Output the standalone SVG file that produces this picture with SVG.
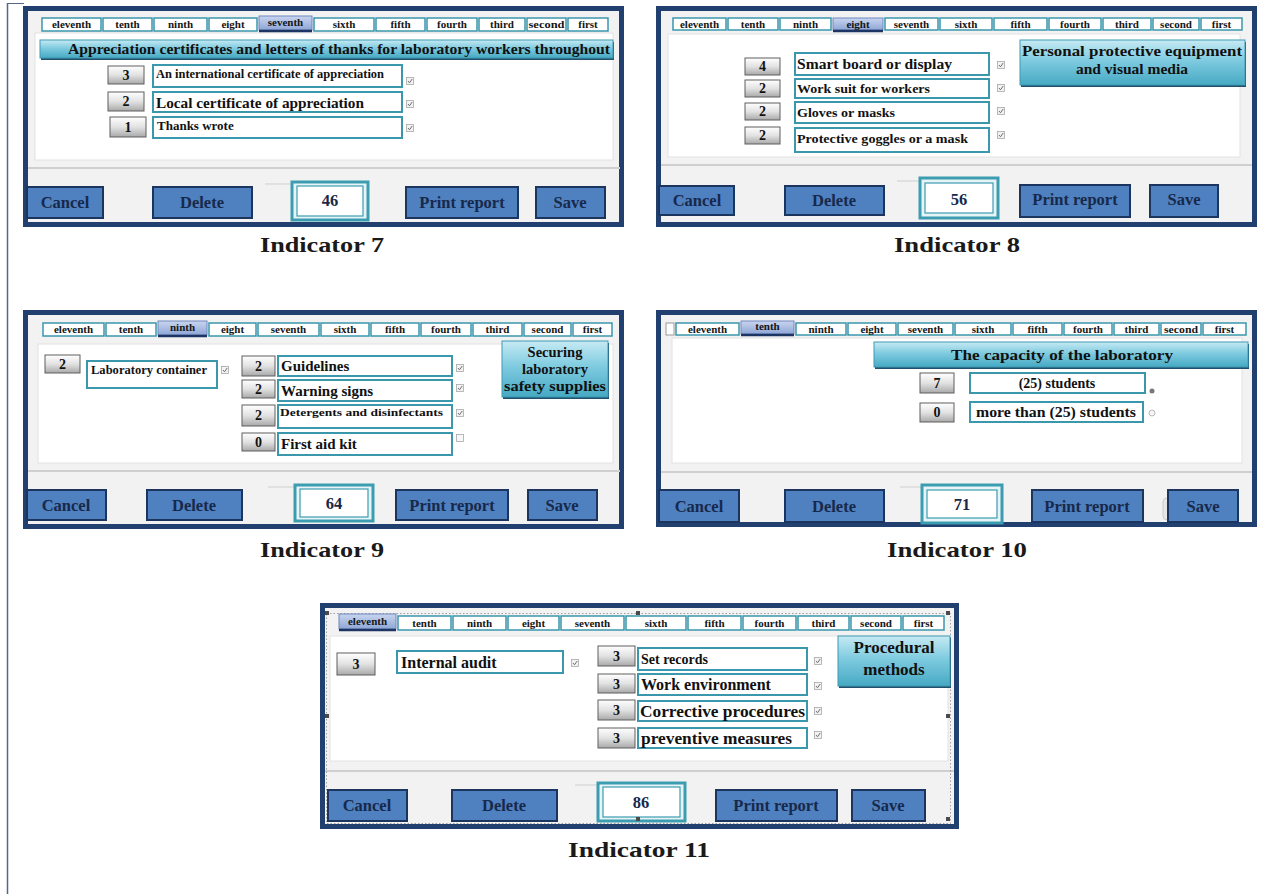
<svg xmlns="http://www.w3.org/2000/svg" xmlns:xlink="http://www.w3.org/1999/xlink" width="1272" height="894" viewBox="0 0 1272 894">
<defs>
<linearGradient id="gGray" x1="0" y1="0" x2="0" y2="1"><stop offset="0" stop-color="#ffffff"/><stop offset="0.5" stop-color="#e2e2e2"/><stop offset="1" stop-color="#a9a9a9"/></linearGradient>
<linearGradient id="gTeal" x1="0" y1="0" x2="0" y2="1"><stop offset="0" stop-color="#c6eaf3"/><stop offset="0.45" stop-color="#7fcbe0"/><stop offset="1" stop-color="#46a9c3"/></linearGradient>
<linearGradient id="gSel" x1="0" y1="0" x2="0" y2="1"><stop offset="0" stop-color="#c9d5ef"/><stop offset="1" stop-color="#8ea6d6"/></linearGradient>
<g id="chk"><rect x="-3.5" y="-3.5" width="7" height="7" fill="#f2f2f2" stroke="#a8a8a8" stroke-width="0.8"/><path d="M-2,0 L-0.5,1.8 L2.2,-2" fill="none" stroke="#707070" stroke-width="1"/></g>
<g id="unchk"><rect x="-3.5" y="-3.5" width="7" height="7" fill="#f7f7f7" stroke="#a8a8a8" stroke-width="0.8"/></g>
</defs>
<style>
.frame{fill:#f2f2f2;stroke:#21406f;stroke-width:5}
.content{fill:#ffffff;stroke:#e2e2e2;stroke-width:1}
.sep{stroke:#cfcfcf;stroke-width:2}
.tab{fill:#ffffff;stroke:#3a97ad;stroke-width:1.5}
.tabsel{fill:url(#gSel);stroke:#6f88bd;stroke-width:1}
.tabline{stroke:#1c3563;stroke-width:2.5}
.tabt{font-family:"Liberation Serif",serif;font-weight:bold;font-size:11px;fill:#151515;text-anchor:middle}
.btn{fill:#4f80bf;stroke:#1b355f;stroke-width:2}
.btnt{font-family:"Liberation Serif",serif;font-weight:bold;font-size:16.5px;fill:#17294a;text-anchor:middle}
.num{fill:url(#gGray);stroke:#5e5e5e;stroke-width:1}
.numt{font-family:"Liberation Serif",serif;font-weight:bold;font-size:14px;fill:#111;text-anchor:middle}
.box{fill:#ffffff;stroke:#3b97ab;stroke-width:2}
.bt{font-family:"Liberation Serif",serif;font-weight:bold;fill:#111}
.ttl{fill:url(#gTeal);stroke:#3f9ab3;stroke-width:1}
.ttlsh{fill:#21506c}
.tt{font-family:"Liberation Serif",serif;font-weight:bold;fill:#111;text-anchor:middle}
.score{fill:#e7f4f7;stroke:#3c9cb0;stroke-width:3}
.scorein{fill:#ffffff;stroke:#3c9cb0;stroke-width:1.2}
.cap{font-family:"Liberation Serif",serif;font-weight:bold;font-size:21px;fill:#1a1a1a;text-anchor:middle}
.handle{fill:#4a4a4a}
</style>
<rect x="0" y="0" width="1272" height="894" fill="#ffffff"/>
<line x1="7.5" y1="3" x2="7.5" y2="894" stroke="#55668a" stroke-width="1.5"/>
<line x1="7" y1="3.5" x2="24" y2="3.5" stroke="#55668a" stroke-width="1"/>

<!-- ============ Indicator 7 ============ -->
<g id="panel-indicator7">
<rect class="frame" x="25.5" y="8.5" width="596" height="216"/>
<rect class="content" x="35" y="33" width="578" height="127"/>
<line class="sep" x1="28" y1="168" x2="620" y2="168"/>
<g id="tabs7">
<rect class="tab" x="42" y="18" width="59" height="13"/><text class="tabt" x="71.5" y="28">eleventh</text>
<rect class="tab" x="103" y="18" width="49" height="13"/><text class="tabt" x="127.5" y="28">tenth</text>
<rect class="tab" x="154" y="18" width="53" height="13"/><text class="tabt" x="180.5" y="28">ninth</text>
<rect class="tab" x="209" y="18" width="48" height="13"/><text class="tabt" x="233" y="28">eight</text>
<rect class="tabsel" x="259" y="16" width="53" height="14"/><line class="tabline" x1="259" y1="31" x2="312" y2="31"/><text class="tabt" x="285.5" y="26" font-size="10">seventh</text>
<rect class="tab" x="314" y="18" width="60" height="13"/><text class="tabt" x="344" y="28">sixth</text>
<rect class="tab" x="376" y="18" width="49" height="13"/><text class="tabt" x="400.5" y="28">fifth</text>
<rect class="tab" x="427" y="18" width="50" height="13"/><text class="tabt" x="452" y="28">fourth</text>
<rect class="tab" x="479" y="18" width="46" height="13"/><text class="tabt" x="502" y="28">third</text>
<rect class="tab" x="527" y="18" width="39" height="13"/><text class="tabt" x="546.5" y="28" textLength="36" lengthAdjust="spacingAndGlyphs">second</text>
<rect class="tab" x="568" y="18" width="40" height="13"/><text class="tabt" x="588" y="28">first</text>
</g>
<rect class="ttlsh" x="41" y="42" width="573" height="18"/>
<rect class="ttl" x="40" y="40" width="573" height="18"/>
<text class="tt" x="339" y="54" font-size="15.5" textLength="542" lengthAdjust="spacingAndGlyphs">Appreciation certificates and letters of thanks for laboratory workers throughout</text>
<rect class="num" x="108" y="66" width="36" height="18"/><text class="numt" x="126" y="80">3</text>
<rect class="num" x="108" y="92" width="36" height="19"/><text class="numt" x="126" y="106">2</text>
<rect class="num" x="110" y="117" width="36" height="20"/><text class="numt" x="128" y="132">1</text>
<rect class="box" x="153" y="65" width="249" height="22"/><text class="bt" x="156" y="78" font-size="11.5" textLength="228" lengthAdjust="spacingAndGlyphs">An international certificate of appreciation</text>
<rect class="box" x="153" y="92" width="249" height="20"/><text class="bt" x="156" y="108" font-size="15" textLength="208" lengthAdjust="spacingAndGlyphs">Local certificate of appreciation</text>
<rect class="box" x="153" y="117" width="249" height="21"/><text class="bt" x="157" y="130" font-size="13">Thanks wrote</text>
<use xlink:href="#chk" x="410" y="81"/>
<use xlink:href="#chk" x="410" y="104"/>
<use xlink:href="#chk" x="410" y="128"/>
<line x1="265" y1="184" x2="292" y2="184" stroke="#cfcfcf" stroke-width="1"/>
<rect class="btn" x="27" y="187" width="76" height="31"/><text class="btnt" x="65" y="208">Cancel</text>
<rect class="btn" x="153" y="187" width="99" height="31"/><text class="btnt" x="202" y="208">Delete</text>
<rect class="score" x="292" y="182" width="76" height="38"/><rect class="scorein" x="297" y="186" width="66" height="30"/><text class="btnt" x="330" y="206" fill="#111">46</text>
<rect class="btn" x="406" y="187" width="112" height="31"/><text class="btnt" x="462" y="208">Print  report</text>
<rect class="btn" x="536" y="187" width="69" height="31"/><text class="btnt" x="570" y="208">Save</text>
</g>
<text id="cap7" class="cap" x="322" y="252" textLength="124" lengthAdjust="spacingAndGlyphs">Indicator 7</text>

<!-- ============ Indicator 8 ============ -->
<g id="panel-indicator8">
<rect class="frame" x="658.5" y="8.5" width="596" height="216"/>
<rect class="content" x="668" y="34" width="572" height="123"/>
<line class="sep" x1="661" y1="165" x2="1252" y2="165"/>
<g id="tabs8">
<rect class="tab" x="673" y="18" width="53" height="12"/><text class="tabt" x="699.5" y="27.5">eleventh</text>
<rect class="tab" x="728" y="18" width="50" height="12"/><text class="tabt" x="753" y="27.5">tenth</text>
<rect class="tab" x="780" y="18" width="51" height="12"/><text class="tabt" x="805.5" y="27.5">ninth</text>
<rect class="tabsel" x="833" y="18" width="50" height="12"/><line class="tabline" x1="833" y1="31" x2="883" y2="31"/><text class="tabt" x="858" y="27.5" fill="#2a4a8a">eight</text>
<rect class="tab" x="885" y="18" width="53" height="12"/><text class="tabt" x="911.5" y="27.5">seventh</text>
<rect class="tab" x="940" y="18" width="52" height="12"/><text class="tabt" x="966" y="27.5">sixth</text>
<rect class="tab" x="994" y="18" width="53" height="12"/><text class="tabt" x="1020.5" y="27.5">fifth</text>
<rect class="tab" x="1049" y="18" width="52" height="12"/><text class="tabt" x="1075" y="27.5">fourth</text>
<rect class="tab" x="1103" y="18" width="48" height="12"/><text class="tabt" x="1127" y="27.5">third</text>
<rect class="tab" x="1153" y="18" width="46" height="12"/><text class="tabt" x="1176" y="27.5">second</text>
<rect class="tab" x="1201" y="18" width="41" height="12"/><text class="tabt" x="1221.5" y="27.5">first</text>
</g>
<rect class="ttlsh" x="1021" y="42" width="225" height="45"/>
<rect class="ttl" x="1020" y="40" width="225" height="45"/>
<text class="tt" x="1132" y="56" font-size="15.5" textLength="220" lengthAdjust="spacingAndGlyphs">Personal protective equipment</text>
<text class="tt" x="1132" y="74" font-size="15.5">and visual media</text>
<rect class="num" x="745" y="58" width="35" height="17"/><text class="numt" x="762.5" y="71">4</text>
<rect class="num" x="745" y="80" width="35" height="17"/><text class="numt" x="762.5" y="93">2</text>
<rect class="num" x="745" y="103" width="35" height="17"/><text class="numt" x="762.5" y="116">2</text>
<rect class="num" x="745" y="127" width="35" height="17"/><text class="numt" x="762.5" y="140">2</text>
<rect class="box" x="795" y="53" width="194" height="22"/><text class="bt" x="797" y="69" font-size="15" textLength="155" lengthAdjust="spacingAndGlyphs">Smart board or display</text>
<rect class="box" x="795" y="79" width="194" height="19"/><text class="bt" x="797" y="93" font-size="12.5" textLength="133" lengthAdjust="spacingAndGlyphs">Work suit for workers</text>
<rect class="box" x="795" y="102" width="194" height="21"/><text class="bt" x="797" y="117" font-size="12.5" textLength="98" lengthAdjust="spacingAndGlyphs">Gloves or masks</text>
<rect class="box" x="795" y="128" width="194" height="24"/><text class="bt" x="797" y="143" font-size="12.5" textLength="171" lengthAdjust="spacingAndGlyphs">Protective goggles or a mask</text>
<use xlink:href="#chk" x="1001" y="65"/>
<use xlink:href="#chk" x="1001" y="88"/>
<use xlink:href="#chk" x="1001" y="111"/>
<use xlink:href="#chk" x="1001" y="135"/>
<line x1="897" y1="181" x2="920" y2="181" stroke="#cfcfcf" stroke-width="1"/>
<rect class="btn" x="659" y="186" width="75" height="29"/><text class="btnt" x="697" y="206">Cancel</text>
<rect class="btn" x="785" y="186" width="99" height="29"/><text class="btnt" x="834" y="206">Delete</text>
<rect class="score" x="920" y="178" width="78" height="40"/><rect class="scorein" x="925" y="183" width="68" height="30"/><text class="btnt" x="959" y="205" fill="#111">56</text>
<rect class="btn" x="1020" y="185" width="110" height="32"/><text class="btnt" x="1075" y="205">Print  report</text>
<rect class="btn" x="1150" y="185" width="68" height="32"/><text class="btnt" x="1184" y="205">Save</text>
</g>
<text id="cap8" class="cap" x="957" y="252" textLength="126" lengthAdjust="spacingAndGlyphs">Indicator 8</text>

<!-- ============ Indicator 9 ============ -->
<g id="panel-indicator9">
<rect class="frame" x="25.5" y="312.5" width="596" height="214"/>
<rect class="content" x="38" y="344" width="575" height="119"/>
<line class="sep" x1="28" y1="471" x2="620" y2="471"/>
<g id="tabs9">
<rect class="tab" x="43" y="323" width="61" height="13"/><text class="tabt" x="73.5" y="333">eleventh</text>
<rect class="tab" x="106" y="323" width="50" height="13"/><text class="tabt" x="131" y="333">tenth</text>
<rect class="tabsel" x="158" y="321" width="49" height="14"/><line class="tabline" x1="158" y1="336" x2="207" y2="336"/><text class="tabt" x="182.5" y="331" fill="#2a4a8a">ninth</text>
<rect class="tab" x="209" y="323" width="47" height="13"/><text class="tabt" x="232.5" y="333">eight</text>
<rect class="tab" x="258" y="323" width="61" height="13"/><text class="tabt" x="288.5" y="333">seventh</text>
<rect class="tab" x="321" y="323" width="48" height="13"/><text class="tabt" x="345" y="333">sixth</text>
<rect class="tab" x="371" y="323" width="48" height="13"/><text class="tabt" x="395" y="333">fifth</text>
<rect class="tab" x="421" y="323" width="50" height="13"/><text class="tabt" x="446" y="333">fourth</text>
<rect class="tab" x="473" y="323" width="49" height="13"/><text class="tabt" x="497.5" y="333">third</text>
<rect class="tab" x="524" y="323" width="47" height="13"/><text class="tabt" x="547.5" y="333">second</text>
<rect class="tab" x="573" y="323" width="39" height="13"/><text class="tabt" x="592.5" y="333">first</text>
</g>
<rect class="ttlsh" x="503" y="343" width="106" height="56"/>
<rect class="ttl" x="502" y="341" width="106" height="56"/>
<text class="tt" x="555" y="357" font-size="14.5">Securing</text>
<text class="tt" x="555" y="374" font-size="14.5">laboratory</text>
<text class="tt" x="555" y="391" font-size="14.5" textLength="102" lengthAdjust="spacingAndGlyphs">safety supplies</text>
<rect class="num" x="45" y="355" width="35" height="18"/><text class="numt" x="62.5" y="369">2</text>
<rect class="box" x="87" y="361" width="130" height="27"/><text class="bt" x="91" y="374" font-size="12" textLength="116" lengthAdjust="spacingAndGlyphs">Laboratory container</text>
<use xlink:href="#chk" x="225" y="370"/>
<rect class="num" x="242" y="356" width="33" height="20"/><text class="numt" x="258.5" y="371">2</text>
<rect class="num" x="242" y="380" width="33" height="18"/><text class="numt" x="258.5" y="394">2</text>
<rect class="num" x="242" y="405" width="33" height="21"/><text class="numt" x="258.5" y="420">2</text>
<rect class="num" x="242" y="433" width="33" height="18"/><text class="numt" x="258.5" y="447">0</text>
<rect class="box" x="278" y="356" width="174" height="20"/><text class="bt" x="281" y="371" font-size="15">Guidelines</text>
<rect class="box" x="278" y="380" width="174" height="21"/><text class="bt" x="281" y="396" font-size="15">Warning signs</text>
<rect class="box" x="278" y="405" width="174" height="23"/><text class="bt" x="280" y="416" font-size="11" textLength="163" lengthAdjust="spacingAndGlyphs">Detergents and disinfectants</text>
<rect class="box" x="278" y="433" width="174" height="22"/><text class="bt" x="281" y="449" font-size="15">First aid kit</text>
<use xlink:href="#chk" x="460" y="368"/>
<use xlink:href="#chk" x="460" y="388"/>
<use xlink:href="#chk" x="460" y="413"/>
<use xlink:href="#unchk" x="460" y="438"/>
<line x1="268" y1="487" x2="295" y2="487" stroke="#cfcfcf" stroke-width="1"/>
<rect class="btn" x="27" y="490" width="79" height="30"/><text class="btnt" x="66" y="511">Cancel</text>
<rect class="btn" x="147" y="490" width="95" height="30"/><text class="btnt" x="194" y="511">Delete</text>
<rect class="score" x="295" y="485" width="78" height="36"/><rect class="scorein" x="300" y="489" width="68" height="28"/><text class="btnt" x="334" y="509" fill="#111">64</text>
<rect class="btn" x="396" y="490" width="112" height="30"/><text class="btnt" x="452" y="511">Print  report</text>
<rect class="btn" x="528" y="490" width="69" height="30"/><text class="btnt" x="562" y="511">Save</text>
</g>
<text id="cap9" class="cap" x="322" y="557" textLength="124" lengthAdjust="spacingAndGlyphs">Indicator 9</text>

<!-- ============ Indicator 10 ============ -->
<g id="panel-indicator10">
<rect class="frame" x="658.5" y="312.5" width="596" height="212"/>
<rect class="content" x="672" y="338" width="570" height="125"/>
<line class="sep" x1="661" y1="472" x2="1252" y2="472"/>
<rect x="666" y="323" width="8" height="12" fill="#ffffff" stroke="#9a9a9a" stroke-width="1"/>
<g id="tabs10">
<rect class="tab" x="676" y="323" width="63" height="12"/><text class="tabt" x="707.5" y="332.5">eleventh</text>
<rect class="tabsel" x="741" y="321" width="53" height="13"/><line class="tabline" x1="741" y1="335" x2="794" y2="335"/><text class="tabt" x="767.5" y="330" fill="#2a4a8a">tenth</text>
<rect class="tab" x="796" y="323" width="50" height="12"/><text class="tabt" x="821" y="332.5">ninth</text>
<rect class="tab" x="848" y="323" width="48" height="12"/><text class="tabt" x="872" y="332.5">eight</text>
<rect class="tab" x="898" y="323" width="55" height="12"/><text class="tabt" x="925.5" y="332.5">seventh</text>
<rect class="tab" x="955" y="323" width="56" height="12"/><text class="tabt" x="983" y="332.5">sixth</text>
<rect class="tab" x="1013" y="323" width="49" height="12"/><text class="tabt" x="1037.5" y="332.5">fifth</text>
<rect class="tab" x="1064" y="323" width="48" height="12"/><text class="tabt" x="1088" y="332.5">fourth</text>
<rect class="tab" x="1114" y="323" width="45" height="12"/><text class="tabt" x="1136.5" y="332.5">third</text>
<rect class="tab" x="1161" y="323" width="40" height="12"/><text class="tabt" x="1181" y="332.5" textLength="34" lengthAdjust="spacingAndGlyphs">second</text>
<rect class="tab" x="1203" y="323" width="43" height="12"/><text class="tabt" x="1224.5" y="332.5">first</text>
</g>
<rect class="ttlsh" x="875" y="344" width="374" height="25"/>
<rect class="ttl" x="874" y="342" width="374" height="25"/>
<text class="tt" x="1062" y="360" font-size="15.5" textLength="222" lengthAdjust="spacingAndGlyphs">The capacity of the laboratory</text>
<rect class="num" x="920" y="373" width="34" height="20"/><text class="numt" x="937" y="388">7</text>
<rect class="num" x="920" y="403" width="34" height="19"/><text class="numt" x="937" y="417">0</text>
<rect class="box" x="970" y="373" width="175" height="20"/><text class="tt" x="1057" y="388" font-size="14">(25) students</text>
<rect class="box" x="970" y="402" width="173" height="20"/><text class="tt" x="1056" y="417" font-size="14" textLength="160" lengthAdjust="spacingAndGlyphs">more than (25) students</text>
<circle cx="1152" cy="391" r="2.5" fill="#777"/>
<circle cx="1152" cy="413" r="3" fill="#f5f5f5" stroke="#bbbbbb" stroke-width="1"/>
<line x1="900" y1="487" x2="922" y2="487" stroke="#cfcfcf" stroke-width="1"/>
<rect class="btn" x="659" y="490" width="80" height="32"/><text class="btnt" x="699" y="512">Cancel</text>
<rect class="btn" x="785" y="490" width="99" height="32"/><text class="btnt" x="834" y="512">Delete</text>
<rect class="score" x="922" y="485" width="80" height="38"/><rect class="scorein" x="927" y="490" width="70" height="28"/><text class="btnt" x="962" y="510" fill="#111">71</text>
<rect class="btn" x="1032" y="490" width="111" height="32"/><text class="btnt" x="1087" y="512">Print  report</text>
<rect x="1163" y="498" width="14" height="22" rx="4" fill="#e6e6e6" stroke="#cccccc" stroke-width="1"/>
<rect class="btn" x="1168" y="490" width="70" height="32"/><text class="btnt" x="1203" y="512">Save</text>
</g>
<text id="cap10" class="cap" x="957" y="557" textLength="140" lengthAdjust="spacingAndGlyphs">Indicator 10</text>

<!-- ============ Indicator 11 ============ -->
<g id="panel-indicator11">
<rect class="frame" x="322.5" y="605.5" width="634" height="221"/>
<rect class="content" x="330" y="636" width="618" height="125"/>
<line class="sep" x1="325" y1="771" x2="954" y2="771"/>
<rect x="326.5" y="613.5" width="624" height="210" fill="none" stroke="#8a8a8a" stroke-width="0.8" stroke-dasharray="1.5 2"/>
<g id="tabs11">
<rect class="tabsel" x="339" y="614" width="57" height="15"/><line class="tabline" x1="339" y1="630" x2="396" y2="630"/><text class="tabt" x="367.5" y="625" fill="#2a4a8a">eleventh</text>
<rect class="tab" x="398" y="616" width="53" height="14"/><text class="tabt" x="424.5" y="626.5">tenth</text>
<rect class="tab" x="453" y="616" width="53" height="14"/><text class="tabt" x="479.5" y="626.5">ninth</text>
<rect class="tab" x="508" y="616" width="51" height="14"/><text class="tabt" x="533.5" y="626.5">eight</text>
<rect class="tab" x="561" y="616" width="63" height="14"/><text class="tabt" x="592.5" y="626.5">seventh</text>
<rect class="tab" x="626" y="616" width="60" height="14"/><text class="tabt" x="656" y="626.5">sixth</text>
<rect class="tab" x="688" y="616" width="53" height="14"/><text class="tabt" x="714.5" y="626.5">fifth</text>
<rect class="tab" x="743" y="616" width="53" height="14"/><text class="tabt" x="769.5" y="626.5">fourth</text>
<rect class="tab" x="798" y="616" width="51" height="14"/><text class="tabt" x="823.5" y="626.5">third</text>
<rect class="tab" x="851" y="616" width="50" height="14"/><text class="tabt" x="876" y="626.5">second</text>
<rect class="tab" x="903" y="616" width="41" height="14"/><text class="tabt" x="923.5" y="626.5">first</text>
</g>
<rect class="ttlsh" x="839" y="638" width="112" height="50"/>
<rect class="ttl" x="838" y="636" width="112" height="50"/>
<text class="tt" x="894" y="653" font-size="17">Procedural</text>
<text class="tt" x="894" y="675" font-size="17">methods</text>
<rect class="num" x="337" y="653" width="38" height="22"/><text class="numt" x="356" y="669" font-size="15">3</text>
<rect class="box" x="397" y="651" width="166" height="22"/><text class="bt" x="401" y="668" font-size="16">Internal audit</text>
<use xlink:href="#chk" x="575" y="663"/>
<rect class="num" x="598" y="646" width="37" height="20"/><text class="numt" x="616.5" y="661" font-size="15">3</text>
<rect class="num" x="598" y="674" width="37" height="19"/><text class="numt" x="616.5" y="689" font-size="15">3</text>
<rect class="num" x="598" y="700" width="37" height="20"/><text class="numt" x="616.5" y="715" font-size="15">3</text>
<rect class="num" x="598" y="728" width="37" height="20"/><text class="numt" x="616.5" y="743" font-size="15">3</text>
<rect class="box" x="638" y="648" width="169" height="22"/><text class="bt" x="641" y="664" font-size="14">Set records</text>
<rect class="box" x="638" y="674" width="169" height="21"/><text class="bt" x="641" y="690" font-size="16">Work environment</text>
<rect class="box" x="638" y="701" width="169" height="20"/><text class="bt" x="640" y="717" font-size="16" textLength="165" lengthAdjust="spacingAndGlyphs">Corrective procedures</text>
<rect class="box" x="638" y="728" width="169" height="20"/><text class="bt" x="641" y="744" font-size="16" textLength="151" lengthAdjust="spacingAndGlyphs">preventive measures</text>
<use xlink:href="#chk" x="818" y="661"/>
<use xlink:href="#chk" x="818" y="686"/>
<use xlink:href="#chk" x="818" y="711"/>
<use xlink:href="#chk" x="818" y="735"/>
<line x1="575" y1="785" x2="598" y2="785" stroke="#cfcfcf" stroke-width="1"/>
<rect class="btn" x="328" y="790" width="79" height="31"/><text class="btnt" x="367" y="811">Cancel</text>
<rect class="btn" x="452" y="790" width="105" height="31"/><text class="btnt" x="504" y="811">Delete</text>
<rect class="score" x="598" y="783" width="87" height="38"/><rect class="scorein" x="603" y="787" width="77" height="30"/><text class="btnt" x="641" y="808" fill="#111">86</text>
<rect class="btn" x="716" y="790" width="121" height="31"/><text class="btnt" x="776" y="811">Print  report</text>
<rect class="btn" x="852" y="790" width="73" height="31"/><text class="btnt" x="888" y="811">Save</text>
<rect class="handle" x="325" y="611" width="4" height="4"/>
<rect class="handle" x="636" y="611" width="4" height="4"/>
<rect class="handle" x="946" y="611" width="4" height="4"/>
<rect class="handle" x="325" y="714" width="4" height="4"/>
<rect class="handle" x="946" y="714" width="4" height="4"/>
<rect class="handle" x="636" y="817" width="4" height="4"/>
<rect class="handle" x="946" y="817" width="4" height="4"/>
</g>
<text id="cap11" class="cap" x="639" y="857" textLength="142" lengthAdjust="spacingAndGlyphs">Indicator 11</text>
</svg>
